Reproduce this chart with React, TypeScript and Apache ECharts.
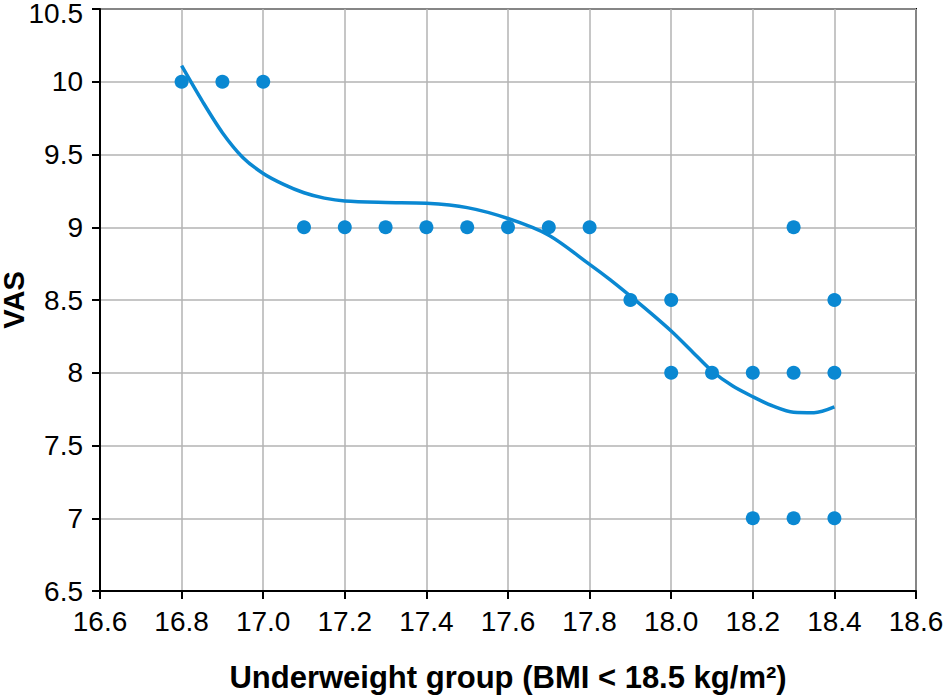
import React, { useEffect, useRef } from "react";
import * as echarts from "echarts";

const xTickMin = 16.6;
const xTickMax = 18.6;
const yTickMin = 6.5;
const yTickMax = 10.5;

const pointBMI = [16.8, 16.9, 17.0, 17.1, 17.2, 17.3, 17.4, 17.5, 17.6, 17.7, 17.8, 17.9, 18.0, 18.0, 18.1, 18.2, 18.3, 18.4, 18.3, 18.4, 18.2, 18.3, 18.4];
const pointVAS = [10, 10, 10, 9, 9, 9, 9, 9, 9, 9, 9, 8.5, 8.5, 8, 8, 8, 8, 8, 9, 8.5, 7, 7, 7];

const curveBMI = [16.8, 16.85, 16.9, 16.95, 17.0, 17.05, 17.1, 17.15, 17.2, 17.3, 17.4, 17.5, 17.6, 17.7, 17.8, 17.85, 17.9, 17.95, 18.0, 18.05, 18.1, 18.15, 18.2, 18.25, 18.3, 18.35, 18.4];
const curveVAS = [10.11, 9.87, 9.65, 9.48, 9.37, 9.295, 9.237, 9.2, 9.18, 9.17, 9.165, 9.135, 9.06, 8.945, 8.745, 8.64, 8.527, 8.41, 8.287, 8.15, 8.012, 7.91, 7.835, 7.77, 7.728, 7.725, 7.765];

const xTitle = "Underweight group (BMI < 18.5 kg/m²)";
const yTitle = "VAS";

export default function App() {
  const ref = useRef<HTMLDivElement>(null);
  useEffect(() => {
    if (!ref.current) return;
    const chart = echarts.init(ref.current, null, { renderer: "svg" });
    const blue = "#0a88d2";
    const font = "'Liberation Sans', Arial, sans-serif";
    chart.setOption({
      animation: false,
      backgroundColor: "#ffffff",
      grid: {
        left: 100,
        right: 30,
        top: 9,
        bottom: 106,
        show: true,
        borderColor: "#000000",
        borderWidth: 2,
        containLabel: false,
        outerBoundsMode: "none",
      },
      xAxis: {
        type: "value",
        min: xTickMin,
        max: xTickMax,
        interval: 0.2,
        name: xTitle,
        nameLocation: "middle",
        nameGap: 71,
        nameMoveOverlap: false,
        nameTextStyle: { fontFamily: font, fontSize: 31, fontWeight: "bold", color: "#000" },
        axisLine: { show: true, onZero: false, lineStyle: { color: "#000", width: 2 } },
        axisTick: { show: true, inside: false, length: 8, lineStyle: { color: "#000", width: 2 } },
        axisLabel: {
          margin: 16,
          fontFamily: font,
          fontSize: 28,
          color: "#000",
          formatter: (v: number) => v.toFixed(1),
        },
        splitLine: { show: true, lineStyle: { color: "#b3b3b3", width: 1.5 } },
      },
      yAxis: {
        type: "value",
        min: yTickMin,
        max: yTickMax,
        interval: 0.5,
        name: yTitle,
        nameLocation: "middle",
        nameGap: 72,
        nameMoveOverlap: false,
        nameRotate: 90,
        nameTextStyle: { fontFamily: font, fontSize: 29, fontWeight: "bold", color: "#000" },
        axisLine: { show: true, onZero: false, lineStyle: { color: "#000", width: 2 } },
        axisTick: { show: true, inside: false, length: 8, lineStyle: { color: "#000", width: 2 } },
        axisLabel: {
          margin: 17,
          fontFamily: font,
          fontSize: 28,
          color: "#000",
          formatter: (v: number) => {
            const s = String(parseFloat(v.toFixed(1)));
            return v >= yTickMax - 1e-9 ? "{top|" + s + "}" : s;
          },
          rich: {
            top: { fontFamily: font, fontSize: 28, color: "#000", padding: [8, 0, 0, 0] },
          },
        },
        splitLine: { show: true, lineStyle: { color: "#b3b3b3", width: 1.5 } },
      },
      series: [
        {
          type: "line",
          data: curveBMI.map((x, i) => [x, curveVAS[i]]),
          smooth: 0.3,
          showSymbol: false,
          symbol: "none",
          lineStyle: { color: blue, width: 3.5 },
          z: 3,
        },
        {
          type: "scatter",
          data: pointBMI.map((x, i) => [x, pointVAS[i]]),
          symbol: "circle",
          symbolSize: 14,
          itemStyle: { color: blue, opacity: 1 },
          z: 4,
        },
      ],
    });
    return () => chart.dispose();
  }, []);
  return (
    <div
      ref={ref}
      style={{ position: "fixed", left: 0, top: 0, width: 946, height: 697 }}
    />
  );
}
